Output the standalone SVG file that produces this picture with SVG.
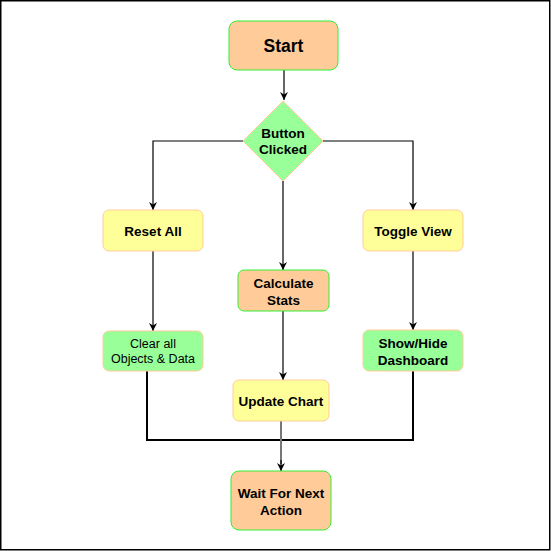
<svg xmlns="http://www.w3.org/2000/svg" width="551" height="551" viewBox="0 0 551 551">
<style>
.peach{fill:#FFCC99;stroke:#33EE33;stroke-width:1}
.yellow{fill:#FFFF99;stroke:#FFCC99;stroke-width:1}
.green{fill:#99FF99;stroke:#FFCC99;stroke-width:1}
text{font-family:"Liberation Sans",Arial,sans-serif;font-weight:bold;font-size:13.5px;fill:#000;text-anchor:middle}
.big{font-size:17.5px}
.norm{font-weight:normal;font-size:12.5px}
.conn{fill:none;stroke:#000;stroke-width:1.2}
.thick{fill:none;stroke:#000;stroke-width:2}
.gray{fill:none;stroke:#777;stroke-width:2}
</style>
<defs>
<marker id="arr" viewBox="0 0 10 10" refX="10" refY="5" markerWidth="8" markerHeight="8" markerUnits="userSpaceOnUse" orient="auto">
<path d="M0,0 L10,5 L0,10 L3,5 Z" fill="#000"/>
</marker>
</defs>
<rect x="0.75" y="0.75" width="549" height="549" fill="#fff" stroke="#000" stroke-width="1.5"/>
<g id="connectors">
<path class="conn" d="M284,70 L284,100" marker-end="url(#arr)"/>
<path class="conn" d="M243,141 L153,141 L153,210" marker-end="url(#arr)"/>
<path class="conn" d="M323,141 L413,141 L413,210" marker-end="url(#arr)"/>
<path class="conn" d="M283,181 L283,270" marker-end="url(#arr)"/>
<path class="conn" d="M153,251 L153,331" marker-end="url(#arr)"/>
<path class="conn" d="M283,311 L283,380" marker-end="url(#arr)"/>
<path class="conn" d="M413,251 L413,330" marker-end="url(#arr)"/>
<path class="thick" d="M147,371 L147,440 L413,440 L413,371"/>
<path class="gray" d="M281,421 L281,464"/>
<path class="conn" d="M281,460 L281,471" marker-end="url(#arr)"/>
</g>
<g id="start">
<rect class="peach" x="229" y="21" width="109" height="49" rx="8"/>
<text class="big" x="283.5" y="51.5">Start</text>
</g>
<g id="button-clicked">
<polygon class="green" points="283,101 323,141 283,181 243,141"/>
<text x="283" y="138">Button</text>
<text x="283" y="154">Clicked</text>
</g>
<g id="reset-all">
<rect class="yellow" x="103" y="210" width="100" height="41" rx="6"/>
<text x="153" y="235.5">Reset All</text>
</g>
<g id="clear-all">
<rect class="green" x="103" y="331" width="100" height="40" rx="6"/>
<text class="norm" x="153" y="347.5">Clear all</text>
<text class="norm" x="153" y="362.5">Objects &amp; Data</text>
</g>
<g id="calculate-stats">
<rect class="peach" x="238" y="270" width="91" height="41" rx="6"/>
<text x="283.5" y="287.5">Calculate</text>
<text x="283.5" y="304.5">Stats</text>
</g>
<g id="update-chart">
<rect class="yellow" x="233" y="380" width="96" height="41" rx="6"/>
<text x="281" y="406">Update Chart</text>
</g>
<g id="toggle-view">
<rect class="yellow" x="363" y="210" width="100" height="41" rx="6"/>
<text x="413" y="235.5">Toggle View</text>
</g>
<g id="show-hide">
<rect class="green" x="363" y="330" width="100" height="41" rx="6"/>
<text x="413" y="347.5">Show/Hide</text>
<text x="413" y="364.5">Dashboard</text>
</g>
<g id="wait">
<rect class="peach" x="231" y="471" width="100" height="59" rx="8"/>
<text x="281" y="497.5">Wait For Next</text>
<text x="281" y="514.5">Action</text>
</g>
</svg>
